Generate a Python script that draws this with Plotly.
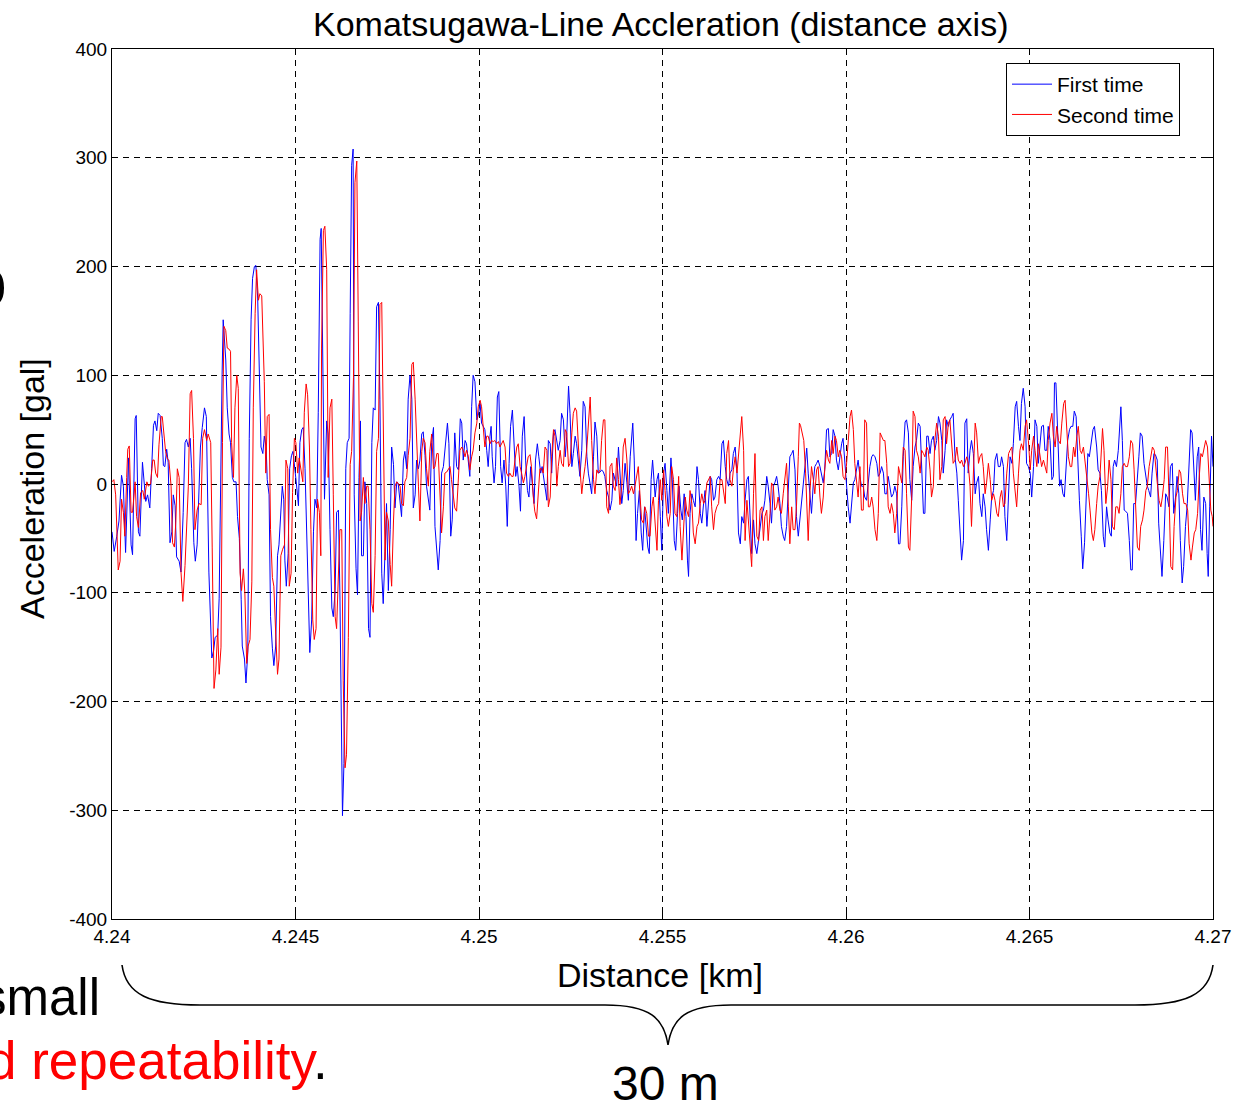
import plotly.graph_objects as go

START_KM = 4.24  # distance origin of the window [km]

# First run: (distance from 4.24 km in metres, acceleration in gal)
first_pts = [
    (0.00,-44),(0.06,-62),(0.13,-48),(0.19,-34),(0.26,8),(0.31,-2),(0.37,-63),(0.45,24),(0.52,-56),(0.56,-65),
    (0.63,60),(0.66,63),(0.72,-44),(0.76,-48),(0.83,20),(0.88,-2),(0.92,-16),(0.97,-10),(1.03,-22),(1.08,14),
    (1.13,54),(1.17,58),(1.22,49),(1.26,65),(1.31,63),(1.37,42),(1.40,17),(1.44,16),(1.49,32),(1.53,20),
    (1.58,-54),(1.63,-44),(1.67,-10),(1.72,-20),(1.76,-67),(1.83,-71),(1.88,-81),(1.94,-26),(1.99,38),(2.03,41),
    (2.08,34),(2.13,42),(2.17,14),(2.23,-54),(2.27,-71),(2.32,-56),(2.37,-2),(2.41,34),(2.46,52),(2.52,70),
    (2.57,62),(2.64,-81),(2.72,-160),(2.77,-153),
    (2.81,-141),(2.88,-139),(2.92,-105),(2.96,14),(3.00,101),(3.03,151),(3.10,114),(3.14,70),(3.19,46),(3.23,38),
    (3.28,6),(3.32,2),(3.38,2),(3.42,-30),(3.47,-50),(3.52,-106),(3.55,-149),(3.61,-161),(3.65,-183),(3.70,-155),
    (3.74,42),(3.79,151),(3.83,189),(3.88,200),(3.92,201),(3.97,171),(4.01,94),(4.06,34),(4.11,28),(4.15,44),
    (4.20,34),(4.23,4),(4.28,-10),(4.32,-122),(4.37,-151),(4.41,-167),(4.46,-149),(4.51,-66),(4.55,-56),(4.60,-18),
    (4.64,-2),(4.68,-14),(4.71,-70),(4.75,-94),(4.80,-64),(4.84,14),(4.89,26),(4.93,30),(4.98,10),(5.02,2),
    (5.08,-20),(5.12,38),(5.17,50),(5.21,52),(5.26,14),(5.30,-42),(5.35,-118),(5.39,-155),(5.44,-125),(5.49,-44),
    (5.53,-14),(5.58,-22),(5.62,66),(5.67,225),(5.70,235),(5.74,141),(5.79,-14),
    (5.85,58),(5.89,46),(5.94,-42),(5.99,-114),(6.03,-122),(6.08,-98),(6.12,-26),(6.17,-24),(6.21,-102),(6.24,-201),
    (6.28,-305),(6.32,-257),(6.37,14),(6.41,38),(6.46,42),(6.49,157),(6.53,293),(6.57,308),(6.60,-10),(6.65,-78),
    (6.69,-102),(6.73,6),(6.77,58),(6.80,-66),(6.85,-66),(6.89,2),(6.94,-18),(6.99,-133),(7.03,-141),(7.08,38),
    (7.12,70),(7.17,68),(7.21,163),(7.26,167),(7.30,78),(7.35,-82),(7.39,-110),(7.44,-62),(7.48,-18),(7.53,-98),
    (7.58,-42),(7.62,34),(7.67,18),(7.71,-22),(7.76,2),(7.80,0),(7.85,-18),(7.89,-30),(7.94,22),(7.98,30),
    (8.03,14),(8.07,78),(8.12,100),(8.17,78),(8.21,-22),(8.26,-10),(8.30,22),(8.35,14),(8.39,22),(8.44,46),
    (8.48,48),(8.53,26),(8.57,-2),(8.62,-14),(8.66,-24),(8.71,38),(8.76,52),
    (8.80,-39),(8.85,-58),(8.89,-79),(8.94,-52),(8.98,10),(9.03,16),(9.07,31),(9.14,56),(9.18,37),(9.23,-48),
    (9.27,-33),(9.32,31),(9.34,47),(9.39,16),(9.44,13),(9.49,60),(9.53,56),(9.57,22),(9.62,40),(9.66,37),
    (9.71,19),(9.75,7),(9.80,71),(9.84,100),(9.89,94),(9.94,59),(9.98,63),(10.03,74),(10.07,56),(10.12,53),
    (10.16,50),(10.21,31),(10.25,16),(10.30,44),(10.33,53),(10.36,25),(10.41,1),(10.45,16),(10.50,80),(10.54,85),
    (10.59,16),(10.63,1),(10.68,22),(10.73,-2),(10.77,-39),(10.82,19),(10.86,53),(10.91,68),(10.95,40),(11.00,7),
    (11.04,16),(11.09,-2),(11.13,-25),(11.18,44),(11.23,62),(11.27,22),(11.32,-6),(11.36,-12),(11.41,16),(11.45,-2),
    (11.50,-18),(11.54,22),(11.59,37),(11.63,25),(11.68,10),(11.72,16),(11.77,4),
    (11.80,-6),(11.85,-15),(11.89,40),(11.94,37),(11.98,10),(12.03,47),(12.07,50),(12.12,40),(12.16,31),(12.21,40),
    (12.25,65),(12.30,59),(12.35,25),(12.39,44),(12.44,90),(12.48,65),(12.53,16),(12.57,28),(12.62,44),(12.66,37),
    (12.71,16),(12.75,7),(12.80,31),(12.84,76),(12.89,71),(12.94,25),(12.98,10),(13.03,-2),(13.07,-9),(13.12,25),
    (13.16,57),(13.21,44),(13.25,10),(13.30,11),(13.34,13),(13.39,11),(13.43,7),(13.48,-6),(13.53,-12),(13.57,-24),
    (13.62,-15),(13.66,10),(13.71,4),(13.75,-2),(13.80,34),(13.84,10),(13.89,-18),(13.93,-6),(13.98,19),(14.03,1),
    (14.07,-15),(14.12,25),(14.16,47),(14.19,56),(14.23,22),(14.28,-52),(14.32,-27),(14.37,-6),(14.42,-45),(14.46,-61),
    (14.51,-21),(14.55,-39),(14.60,-58),(14.64,-64),(14.69,4),(14.73,22),
    (14.80,-12),(14.85,4),(14.89,10),(14.94,-30),(14.98,-61),(15.03,10),(15.07,19),(15.12,-6),(15.16,-27),(15.23,24),
    (15.27,1),(15.32,-52),(15.36,-61),(15.41,-27),(15.45,-2),(15.50,-24),(15.54,-33),(15.59,-9),(15.64,-30),(15.68,-70),
    (15.71,-85),(15.75,-27),(15.80,-9),(15.84,-15),(15.89,-21),(15.94,16),(15.98,4),(16.03,-27),(16.07,-36),(16.12,-18),
    (16.16,-6),(16.21,-39),(16.25,-15),(16.30,7),(16.34,4),(16.39,-15),(16.43,-12),(16.48,4),(16.53,7),(16.57,4),
    (16.62,37),(16.66,40),(16.71,16),(16.75,4),(16.80,-2),(16.84,10),(16.89,13),(16.93,28),(16.98,34),(17.03,10),
    (17.07,-45),(17.12,-55),(17.16,-30),(17.21,-36),(17.25,-15),(17.30,4),(17.34,7),(17.39,-27),(17.43,-64),(17.48,-33),
    (17.52,-55),(17.57,-64),(17.62,-52),(17.66,-39),(17.71,-27),(17.75,-24),
    (17.79,-15),(17.84,7),(17.88,-2),(17.93,-18),(17.97,-36),(18.02,-2),(18.06,1),(18.11,7),(18.15,-2),(18.20,-18),
    (18.24,-39),(18.29,-48),(18.33,-52),(18.38,-39),(18.43,-2),(18.47,25),(18.52,28),(18.56,31),(18.61,13),(18.65,-30),
    (18.70,-48),(18.74,-33),(18.79,-15),(18.83,-2),(18.88,19),(18.93,33),(18.97,10),(19.02,-9),(19.06,-27),(19.11,1),
    (19.15,16),(19.20,19),(19.24,22),(19.29,16),(19.33,10),(19.38,1),(19.42,13),(19.47,50),(19.52,51),(19.56,25),
    (19.61,28),(19.65,50),(19.70,44),(19.74,22),(19.79,13),(19.83,25),(19.88,37),(19.92,42),(19.97,16),(20.01,-2),
    (20.06,-21),(20.11,-36),(20.15,-15),(20.20,1),(20.24,4),(20.29,16),(20.33,22),(20.38,7),(20.42,-2),(20.47,-2),
    (20.51,-12),(20.56,-15),(20.61,4),(20.65,16),(20.70,25),(20.74,27),
    (20.79,25),(20.84,19),(20.88,7),(20.93,10),(20.97,16),(21.02,10),(21.06,-9),(21.11,-9),(21.15,7),(21.20,-6),
    (21.24,-12),(21.29,-9),(21.33,-2),(21.38,-9),(21.43,-55),(21.47,-55),(21.52,-21),(21.56,25),(21.61,57),(21.65,59),
    (21.70,47),(21.74,4),(21.79,-15),(21.83,16),(21.88,34),(21.92,40),(21.97,56),(22.02,53),(22.06,10),(22.11,-27),
    (22.15,-27),(22.20,44),(22.24,44),(22.29,28),(22.33,40),(22.38,44),(22.42,31),(22.47,40),(22.52,62),(22.56,56),
    (22.61,40),(22.65,10),(22.70,31),(22.74,59),(22.79,53),(22.83,59),(22.88,62),(22.92,65),(22.97,25),(23.02,10),
    (23.06,-15),(23.11,-45),(23.15,-70),(23.20,-52),(23.24,56),(23.29,60),(23.33,10),(23.38,31),(23.42,40),(23.47,28),
    (23.52,-9),(23.56,1),(23.61,7),(23.65,-18),(23.70,-30),(23.74,-9),
    (23.79,-21),(23.83,-42),(23.88,-61),(23.93,-33),(23.97,-12),(24.02,-6),(24.06,22),(24.11,28),(24.15,16),(24.20,16),
    (24.24,25),(24.29,16),(24.33,-30),(24.38,-52),(24.43,-9),(24.47,25),(24.52,19),(24.56,37),(24.61,71),(24.65,76),
    (24.70,53),(24.74,40),(24.78,74),(24.83,88),(24.88,71),(24.92,19),(24.97,16),(25.02,10),(25.06,-12),(25.11,16),
    (25.15,59),(25.20,53),(25.24,19),(25.29,40),(25.33,53),(25.38,54),(25.42,31),(25.47,31),(25.51,53),(25.56,40),
    (25.61,4),(25.65,7),(25.68,93),(25.72,93),(25.77,40),(25.82,-2),(25.86,4),(25.91,-9),(25.95,-12),(26.00,25),
    (26.04,40),(26.09,50),(26.13,53),(26.18,53),(26.22,67),(26.27,62),(26.32,10),(26.36,-15),(26.41,-48),(26.45,-78),
    (26.50,-54),(26.54,-9),(26.59,28),(26.63,25),(26.68,37),(26.73,50),(26.77,53),
    (26.83,34),(26.87,13),(26.92,10),(26.96,-6),(27.01,-48),(27.05,-58),(27.10,-21),(27.14,-33),(27.19,-45),(27.23,-48),
    (27.28,16),(27.32,22),(27.37,16),(27.42,31),(27.46,62),(27.49,71),(27.53,40),(27.58,-24),(27.62,-25),(27.67,-27),
    (27.72,-52),(27.76,-79),(27.80,-79),(27.84,-18),(27.89,-18),(27.93,-2),(27.98,25),(28.02,47),(28.07,44),(28.12,19),
    (28.16,10),(28.21,-2),(28.25,-6),(28.30,-12),(28.34,10),(28.39,28),(28.43,27),(28.48,22),(28.52,-36),(28.57,-64),
    (28.61,-85),(28.66,-52),(28.71,-9),(28.75,-12),(28.80,-21),(28.84,16),(28.89,19),(28.93,-27),(28.98,-12),(29.02,7),
    (29.07,-9),(29.11,-52),(29.16,-91),(29.20,-76),(29.25,-39),(29.30,-18),(29.34,10),(29.39,50),(29.43,47),(29.48,4),
    (29.52,-15),(29.57,25),(29.61,34),(29.66,-42),(29.70,-61),(29.75,-12),(29.80,-18),(29.84,-64),(29.87,-85),(29.91,-21),
    (29.96,44),(30.00,16),
]

# Second run: (distance from 4.24 km in metres, acceleration in gal)
second_pts = [
    (0.00,2),(0.05,4),(0.10,-10),(0.14,-56),(0.17,-79),(0.22,-71),(0.26,-14),(0.31,-26),(0.35,-48),(0.40,6),
    (0.43,32),(0.47,35),(0.52,-26),(0.56,-26),(0.63,2),(0.67,-30),(0.72,-40),(0.78,-8),(0.84,-6),(0.88,-14),
    (0.95,2),(0.99,-2),(1.05,0),(1.11,22),(1.15,22),(1.19,10),(1.24,6),(1.28,36),(1.34,62),(1.37,62),
    (1.42,46),(1.46,30),(1.51,23),(1.55,22),(1.61,-2),(1.65,-54),(1.70,-58),(1.74,-34),(1.78,14),(1.83,6),
    (1.88,-81),(1.93,-108),(1.99,-75),(2.03,-34),(2.08,-2),(2.13,83),(2.17,86),(2.22,42),(2.26,-42),(2.32,-24),
    (2.37,-18),(2.43,-19),(2.47,42),(2.52,50),(2.58,40),(2.62,46),(2.69,38),(2.73,-58),(2.78,-188),
    (2.83,-171),(2.88,-133),(2.92,-175),(2.97,-150),(3.01,38),(3.05,145),(3.10,141),(3.14,125),(3.19,124),(3.23,122),
    (3.26,38),(3.31,6),(3.35,70),(3.40,100),(3.44,88),(3.49,-82),(3.53,-98),(3.58,-78),(3.62,-100),(3.67,-165),
    (3.71,-149),(3.76,-143),(3.81,-90),(3.85,70),(3.90,157),(3.94,197),(3.99,169),(4.03,175),(4.08,173),(4.12,118),
    (4.15,94),(4.19,10),(4.23,62),(4.28,64),(4.32,-42),(4.37,-86),(4.41,-94),(4.46,-137),(4.51,-175),(4.55,-161),
    (4.60,-66),(4.65,-60),(4.70,-56),(4.74,22),(4.79,14),(4.83,-94),(4.88,-82),(4.92,-8),(4.97,42),(5.01,38),
    (5.06,10),(5.10,24),(5.15,14),(5.20,2),(5.24,66),(5.29,92),(5.33,82),(5.38,34),(5.42,-42),(5.47,-125),
    (5.51,-143),(5.56,-133),(5.60,-14),(5.65,-26),(5.69,-66),(5.71,125),(5.76,233),
    (5.80,237),(5.85,197),(5.89,6),(5.94,70),(5.99,78),(6.03,-10),(6.08,-122),(6.12,-133),(6.17,-90),(6.21,-42),
    (6.26,-42),(6.30,-181),(6.35,-261),(6.39,-249),(6.44,-141),(6.49,18),(6.53,30),(6.58,98),(6.62,277),(6.67,297),
    (6.71,149),(6.76,-34),(6.80,-26),(6.85,6),(6.89,-18),(6.94,-2),(6.98,-2),(7.03,-42),(7.08,-110),(7.12,-118),
    (7.17,-66),(7.21,30),(7.26,42),(7.30,165),(7.35,167),(7.39,66),(7.44,-70),(7.48,-26),(7.53,-34),(7.58,-74),
    (7.62,-94),(7.67,-34),(7.71,-2),(7.76,2),(7.80,0),(7.85,-2),(7.89,-18),(7.94,-20),(7.98,2),(8.03,6),
    (8.07,26),(8.12,42),(8.17,110),(8.21,112),(8.26,78),(8.30,34),(8.35,-2),(8.39,-34),(8.44,30),(8.48,42),
    (8.53,38),(8.57,14),(8.62,-2),(8.66,30),(8.71,46),(8.76,14),
    (8.80,16),(8.85,28),(8.89,28),(8.94,-12),(8.98,-45),(9.03,-21),(9.07,10),(9.12,11),(9.16,13),(9.21,16),
    (9.25,4),(9.30,-12),(9.34,-22),(9.39,-25),(9.44,4),(9.48,31),(9.53,34),(9.57,31),(9.62,25),(9.66,31),
    (9.71,25),(9.75,13),(9.80,25),(9.84,31),(9.89,47),(9.94,56),(9.98,71),(10.03,77),(10.07,71),(10.12,53),
    (10.16,34),(10.21,44),(10.25,44),(10.30,37),(10.34,40),(10.39,39),(10.43,40),(10.48,37),(10.53,39),(10.57,34),
    (10.62,37),(10.66,40),(10.71,34),(10.75,10),(10.80,7),(10.84,10),(10.89,7),(10.93,7),(10.98,22),(11.03,34),
    (11.07,37),(11.12,16),(11.16,10),(11.21,1),(11.25,7),(11.30,16),(11.34,25),(11.39,27),(11.43,16),(11.48,-12),
    (11.52,-25),(11.57,-32),(11.62,-9),(11.66,14),(11.71,14),(11.75,10),
    (11.80,34),(11.85,31),(11.89,-21),(11.94,-12),(11.98,25),(12.03,50),(12.07,44),(12.12,-2),(12.16,16),(12.21,31),
    (12.25,19),(12.30,16),(12.35,50),(12.39,47),(12.44,16),(12.48,19),(12.53,47),(12.57,65),(12.62,70),(12.66,67),
    (12.71,34),(12.75,10),(12.80,-9),(12.84,4),(12.89,16),(12.94,34),(12.98,53),(13.03,80),(13.07,40),(13.12,4),
    (13.16,-9),(13.21,13),(13.25,10),(13.30,13),(13.34,40),(13.39,59),(13.43,59),(13.48,-21),(13.53,-27),(13.57,16),
    (13.62,19),(13.66,-2),(13.71,-6),(13.75,24),(13.80,4),(13.84,-19),(13.89,-2),(13.93,34),(13.98,42),(14.03,22),
    (14.07,-9),(14.12,-6),(14.16,-2),(14.21,-9),(14.25,-2),(14.30,7),(14.34,16),(14.39,-12),(14.43,-33),(14.48,-36),
    (14.52,-21),(14.57,-27),(14.62,-48),(14.66,-48),(14.71,-21),(14.75,-12),
    (14.80,-39),(14.85,-61),(14.89,-15),(14.94,4),(14.98,-15),(15.03,13),(15.07,-6),(15.12,-30),(15.16,-39),(15.21,-27),
    (15.25,16),(15.30,4),(15.34,-27),(15.39,-30),(15.44,7),(15.48,-39),(15.53,-70),(15.57,-39),(15.62,-12),(15.66,-24),
    (15.71,-30),(15.75,-6),(15.80,-18),(15.84,-45),(15.89,-55),(15.94,-39),(15.98,-36),(16.03,-18),(16.07,-9),(16.12,-18),
    (16.16,-15),(16.21,1),(16.25,4),(16.30,7),(16.34,-21),(16.39,-42),(16.43,-27),(16.48,-21),(16.53,-18),(16.57,4),
    (16.62,4),(16.66,-6),(16.71,-18),(16.75,28),(16.80,40),(16.84,4),(16.89,-2),(16.93,13),(16.98,25),(17.03,10),
    (17.07,25),(17.12,47),(17.16,62),(17.21,31),(17.25,-52),(17.30,-15),(17.34,-33),(17.39,-61),(17.43,-76),(17.48,-9),
    (17.52,28),(17.57,-48),(17.62,-52),(17.66,-24),(17.71,-21),(17.75,-52),
    (17.79,-30),(17.84,-24),(17.88,-52),(17.93,-27),(17.97,1),(18.02,-2),(18.06,-24),(18.11,-21),(18.15,-12),(18.20,-24),
    (18.24,-27),(18.29,-9),(18.33,4),(18.38,19),(18.43,-21),(18.47,-55),(18.52,-21),(18.56,-42),(18.61,-42),(18.65,-21),
    (18.70,25),(18.73,56),(18.76,54),(18.81,44),(18.85,40),(18.90,10),(18.94,-33),(18.97,-52),(19.02,-6),(19.06,16),
    (19.11,4),(19.15,-9),(19.20,13),(19.24,16),(19.29,-12),(19.33,-27),(19.38,-12),(19.42,13),(19.47,31),(19.52,22),
    (19.56,19),(19.61,40),(19.65,28),(19.70,44),(19.74,40),(19.79,25),(19.83,31),(19.88,25),(19.92,7),(19.97,4),
    (20.01,16),(20.06,40),(20.11,62),(20.15,68),(20.20,50),(20.24,19),(20.29,4),(20.33,-12),(20.38,16),(20.42,-24),
    (20.47,-24),(20.51,59),(20.56,56),(20.61,-21),(20.65,-21),(20.70,-12),(20.74,-21),
    (20.79,-42),(20.84,-52),(20.88,-27),(20.93,47),(20.97,44),(21.02,40),(21.06,40),(21.11,19),(21.15,-21),(21.20,-27),
    (21.24,-18),(21.29,-27),(21.33,-45),(21.38,-27),(21.43,16),(21.47,10),(21.52,1),(21.56,34),(21.61,31),(21.65,-9),
    (21.70,-58),(21.74,-61),(21.79,-12),(21.83,67),(21.88,62),(21.92,31),(21.97,25),(22.02,10),(22.06,31),(22.11,28),
    (22.15,25),(22.20,34),(22.24,31),(22.29,13),(22.33,-12),(22.38,-2),(22.42,40),(22.47,56),(22.52,44),(22.56,4),
    (22.61,16),(22.65,59),(22.70,62),(22.74,37),(22.79,56),(22.83,59),(22.88,40),(22.92,19),(22.97,22),(23.02,34),
    (23.06,22),(23.11,19),(23.15,22),(23.20,16),(23.24,19),(23.29,25),(23.33,19),(23.38,-2),(23.42,-39),(23.47,10),
    (23.52,56),(23.56,47),(23.61,19),(23.65,25),(23.70,28),(23.74,16),
    (23.79,-9),(23.83,1),(23.88,19),(23.93,4),(23.97,-15),(24.02,-9),(24.06,-15),(24.11,-27),(24.15,-30),(24.20,-12),
    (24.24,-6),(24.29,-21),(24.33,-18),(24.38,10),(24.43,28),(24.47,31),(24.52,34),(24.56,10),(24.61,-9),(24.65,-21),
    (24.70,10),(24.74,31),(24.78,37),(24.83,31),(24.88,53),(24.92,59),(24.97,40),(25.02,13),(25.06,31),(25.11,44),
    (25.15,31),(25.20,16),(25.24,37),(25.29,25),(25.33,16),(25.38,22),(25.42,16),(25.47,10),(25.51,40),(25.56,56),
    (25.61,65),(25.65,44),(25.70,34),(25.74,53),(25.79,40),(25.84,37),(25.88,56),(25.93,74),(25.97,77),(26.02,50),
    (26.06,25),(26.11,16),(26.15,16),(26.20,34),(26.24,25),(26.29,44),(26.33,53),(26.38,31),(26.42,28),(26.47,34),
    (26.51,22),(26.56,10),(26.61,-9),(26.65,-24),(26.70,-45),(26.74,-52),
    (26.78,-42),(26.83,-18),(26.87,-2),(26.92,7),(26.96,40),(26.99,51),(27.03,31),(27.08,-18),(27.13,-2),(27.17,22),
    (27.22,4),(27.26,-39),(27.31,-42),(27.35,-21),(27.40,-21),(27.44,-27),(27.49,-9),(27.53,16),(27.58,19),(27.62,16),
    (27.67,16),(27.72,25),(27.76,40),(27.81,37),(27.85,13),(27.90,-21),(27.94,-58),(27.99,-61),(28.03,-39),(28.08,-33),
    (28.12,-24),(28.17,-6),(28.21,-2),(28.26,16),(28.31,28),(28.35,34),(28.40,31),(28.44,13),(28.49,-2),(28.53,-15),
    (28.58,-21),(28.62,-12),(28.67,4),(28.71,34),(28.76,34),(28.81,-21),(28.85,-76),(28.90,-79),(28.94,-39),(28.99,-12),
    (29.03,-6),(29.08,13),(29.12,10),(29.17,-9),(29.21,-18),(29.26,-18),(29.31,-24),(29.35,-55),(29.40,-70),(29.44,-58),
    (29.49,-45),(29.53,-42),(29.58,-27),(29.62,4),(29.67,28),(29.71,25),(29.76,34),(29.80,40),(29.85,34),(29.89,10),
    (29.94,-24),(29.98,-30),(30.00,-39),
]

series_names = ["First time", "Second time"]
series_colors = ["#0000ff", "#ff0000"]

x_tick_vals = [4.24, 4.245, 4.25, 4.255, 4.26, 4.265, 4.27]
x_tick_text = ["4.24", "4.245", "4.25", "4.255", "4.26", "4.265", "4.27"]
y_tick_vals = [-400, -300, -200, -100, 0, 100, 200, 300, 400]
y_tick_text = ["-400", "-300", "-200", "-100", "0", "100", "200", "300", "400"]

first_d = [p[0] for p in first_pts]
first_acc = [p[1] for p in first_pts]
second_d = [p[0] for p in second_pts]
second_acc = [p[1] for p in second_pts]

# ---------------- layout geometry (pixels) ----------------
W, H = 1249, 1101
L, R, T, B = 112, 1213, 49, 919


def px(x):
    return (x - L) / (R - L)


def py(y):
    return (B - y) / (B - T)


FONT = "Arial, Liberation Sans, sans-serif"

fig = go.Figure()
for d, a, name, col in [(first_d, first_acc, series_names[0], series_colors[0]),
                        (second_d, second_acc, series_names[1], series_colors[1])]:
    fig.add_trace(go.Scatter(
        x=[START_KM + v / 1000.0 for v in d], y=a, mode="lines", name=name,
        line=dict(color=col, width=1),
    ))

axis_common = dict(
    showline=True, linecolor="black", linewidth=1, mirror="ticks",
    ticks="inside", ticklen=6, tickcolor="black",
    showgrid=True, gridcolor="black", gridwidth=1, griddash="6px,5px",
    zeroline=False, tickfont=dict(family=FONT, size=19, color="black"),
)

fig.update_xaxes(range=[4.24, 4.27], tickmode="array", tickvals=x_tick_vals,
                 ticktext=x_tick_text, **axis_common)
fig.update_yaxes(range=[-400, 400], tickmode="array", tickvals=y_tick_vals,
                 ticktext=y_tick_text, **axis_common)

# curly brace under the x axis (paper coordinates)
pts = [(122, 965), (126, 995), (150, 1005), (200, 1005), (605, 1005), (650, 1005), (664, 1018), (668, 1045),
       (672, 1018), (686, 1005), (731, 1005), (1135, 1005), (1185, 1005), (1209, 995), (1213, 965)]
P = [(px(a), py(b)) for a, b in pts]
path = ("M {0[0]},{0[1]} C {1[0]},{1[1]} {2[0]},{2[1]} {3[0]},{3[1]} L {4[0]},{4[1]} "
        "C {5[0]},{5[1]} {6[0]},{6[1]} {7[0]},{7[1]} C {8[0]},{8[1]} {9[0]},{9[1]} {10[0]},{10[1]} "
        "L {11[0]},{11[1]} C {12[0]},{12[1]} {13[0]},{13[1]} {14[0]},{14[1]}").format(*P)

fig.add_shape(type="path", xref="paper", yref="paper", path=path,
              line=dict(color="black", width=1.6))

annotations = [
    dict(text="Distance [km]", x=px(660), y=py(975), xanchor="center", yanchor="middle",
         font=dict(family=FONT, size=34, color="black")),
    dict(text="Acceleration [gal]", x=px(32), y=py(489), xanchor="center", yanchor="middle",
         textangle=-90, font=dict(family=FONT, size=34, color="black")),
    dict(text="Komatsugawa-Line Accleration (distance axis)", x=px(660), y=py(24),
         xanchor="center", yanchor="middle", font=dict(family=FONT, size=34, color="black")),
    dict(text="small", x=px(102), y=py(998), xanchor="right", yanchor="middle",
         font=dict(family=FONT, size=51, color="black")),
    dict(text='<span style="color:#ff0000">d repeatability</span>.', x=px(330), y=py(1060),
         xanchor="right", yanchor="middle", font=dict(family=FONT, size=53, color="black")),
    dict(text="30 m", x=px(665), y=py(1083), xanchor="center", yanchor="middle",
         font=dict(family=FONT, size=48, color="black")),
    dict(text="o", x=px(9), y=py(282), xanchor="right", yanchor="middle",
         font=dict(family=FONT, size=72, color="black")),
]
for a in annotations:
    a.update(xref="paper", yref="paper", showarrow=False)

fig.update_layout(
    width=W, height=H, autosize=False,
    margin=dict(l=L, r=W - R, t=T, b=H - B, pad=0),
    paper_bgcolor="white", plot_bgcolor="white",
    font=dict(family=FONT, color="black"),
    showlegend=True,
    legend=dict(x=px(1006), y=py(63), xanchor="left", yanchor="top",
                bgcolor="white", bordercolor="black", borderwidth=1,
                font=dict(family=FONT, size=21, color="black"),
                itemwidth=40, tracegroupgap=0),
    annotations=annotations,
)

fig.write_html("out.html")
